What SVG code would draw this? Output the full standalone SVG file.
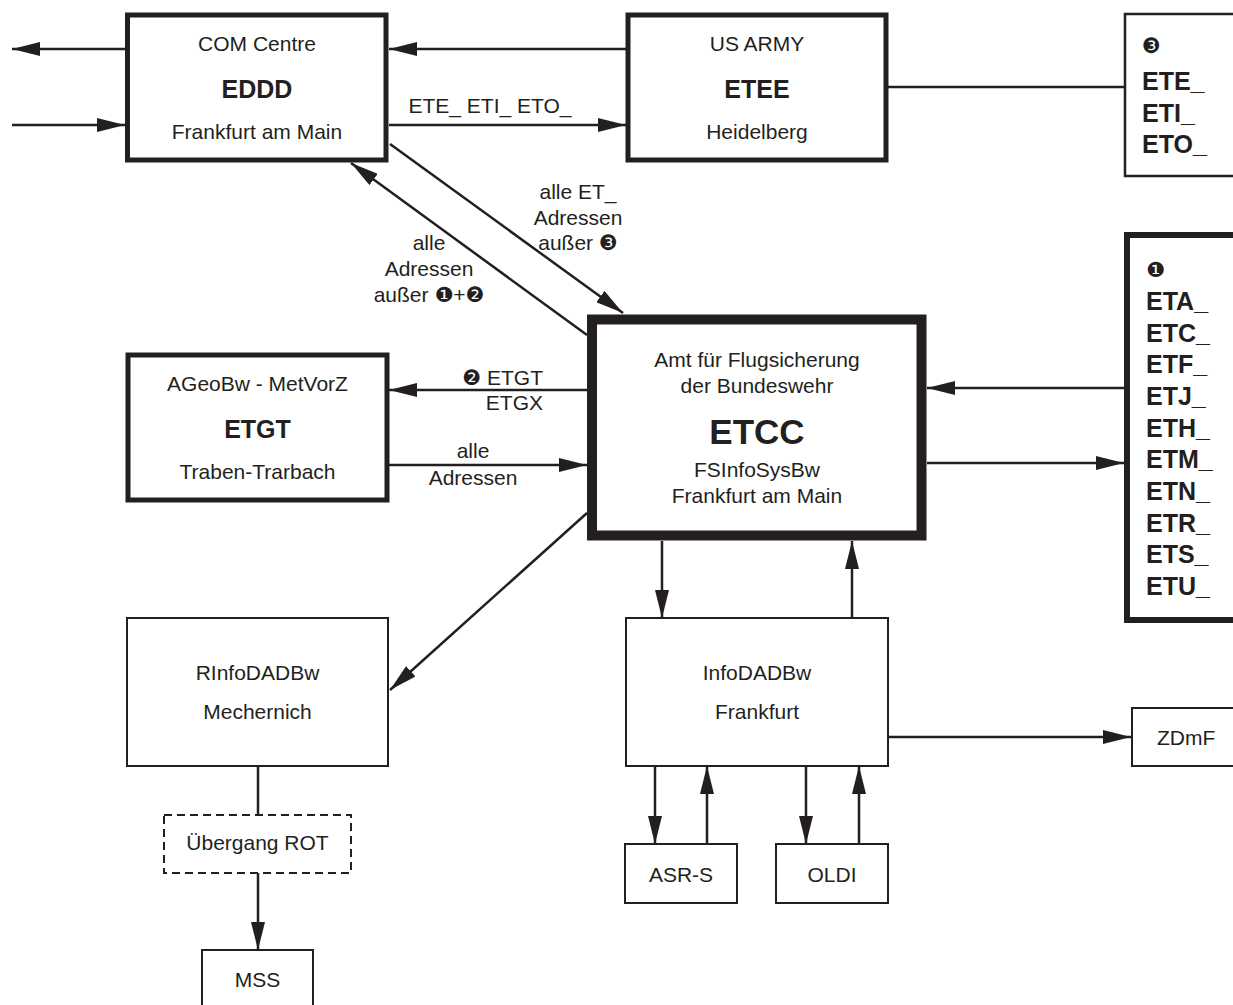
<svg xmlns="http://www.w3.org/2000/svg" width="1233" height="1005" viewBox="0 0 1233 1005">
<style>
text{font-family:"Liberation Sans","DejaVu Sans",Arial,sans-serif;font-size:21px;fill:#231f20}
.c{text-anchor:middle}
.b{font-weight:bold}
.big{font-size:25px;font-weight:bold}
.lst{font-size:25px;font-weight:bold}
.box{fill:#fff;stroke:#231f20}
.w5{stroke-width:5}
.w2{stroke-width:2}
.cn line,.cn path{stroke:#231f20;stroke-width:2.5;fill:none}
</style>
<defs>
<marker id="ah" markerUnits="userSpaceOnUse" markerWidth="28" markerHeight="14" refX="28" refY="7" orient="auto" viewBox="0 0 28 14">
<path d="M0,0 L28,7 L0,14 z" fill="#231f20"/>
</marker>
</defs>
<rect width="1233" height="1005" fill="#fff"/>

<g class="cn" id="connectors">
<line x1="125" y1="49" x2="12" y2="49" marker-end="url(#ah)"/>
<line x1="12" y1="125" x2="125" y2="125" marker-end="url(#ah)"/>
<line x1="626" y1="49" x2="389" y2="49" marker-end="url(#ah)"/>
<line x1="389" y1="125" x2="626" y2="125" marker-end="url(#ah)"/>
<line x1="886" y1="87" x2="1125" y2="87"/>
<line x1="390" y1="144" x2="623" y2="313" marker-end="url(#ah)"/>
<line x1="587" y1="335" x2="351" y2="163" marker-end="url(#ah)"/>
<line x1="587" y1="390" x2="389" y2="390" marker-end="url(#ah)"/>
<line x1="389" y1="465" x2="587" y2="465" marker-end="url(#ah)"/>
<line x1="1127" y1="388" x2="927" y2="388" marker-end="url(#ah)"/>
<line x1="927" y1="463" x2="1124" y2="463" marker-end="url(#ah)"/>
<line x1="587" y1="513" x2="390" y2="690" marker-end="url(#ah)"/>
<line x1="662" y1="541" x2="662" y2="618" marker-end="url(#ah)"/>
<line x1="852" y1="618" x2="852" y2="541" marker-end="url(#ah)"/>
<line x1="888" y1="737" x2="1131" y2="737" marker-end="url(#ah)"/>
<line x1="655" y1="766" x2="655" y2="844" marker-end="url(#ah)"/>
<line x1="707" y1="844" x2="707" y2="766" marker-end="url(#ah)"/>
<line x1="806" y1="766" x2="806" y2="844" marker-end="url(#ah)"/>
<line x1="859" y1="844" x2="859" y2="766" marker-end="url(#ah)"/>
<line x1="258" y1="766" x2="258" y2="814"/>
<line x1="258" y1="873" x2="258" y2="950" marker-end="url(#ah)"/>
</g>

<g id="labels">
<text class="c" x="490" y="113">ETE_ ETI_ ETO_</text>
<text class="c" x="578" y="199">alle ET_</text>
<text class="c" x="578" y="225">Adressen</text>
<text class="c" x="578" y="250">außer ❸</text>
<text class="c" x="429" y="250">alle</text>
<text class="c" x="429" y="276">Adressen</text>
<text class="c" x="429" y="302">außer ❶+❷</text>
<text x="543" y="385" text-anchor="end">❷ ETGT</text>
<text x="543" y="410" text-anchor="end">ETGX</text>
<text class="c" x="473" y="458">alle</text>
<text class="c" x="473" y="485">Adressen</text>
</g>

<g id="eddd">
<rect class="box w5" x="127.5" y="15" width="258.5" height="145"/>
<text class="c" x="257" y="51">COM Centre</text>
<text class="c big" x="257" y="98">EDDD</text>
<text class="c" x="257" y="139">Frankfurt am Main</text>
</g>

<g id="etee">
<rect class="box w5" x="628" y="15" width="258" height="145"/>
<text class="c" x="757" y="51">US ARMY</text>
<text class="c big" x="757" y="98">ETEE</text>
<text class="c" x="757" y="139">Heidelberg</text>
</g>

<g id="ete-list">
<rect class="box" stroke-width="2.5" x="1125" y="14" width="120" height="162"/>
<text x="1142" y="53">❸</text>
<text class="lst" x="1142" y="90">ETE_</text>
<text class="lst" x="1142" y="122">ETI_</text>
<text class="lst" x="1142" y="153">ETO_</text>
</g>

<g id="etgt">
<rect class="box w5" x="128" y="355" width="259" height="145"/>
<text class="c" x="257.5" y="391">AGeoBw - MetVorZ</text>
<text class="c big" x="257.5" y="438">ETGT</text>
<text class="c" x="257.5" y="479">Traben-Trarbach</text>
</g>

<g id="etcc">
<rect class="box" stroke-width="10" x="592" y="319.5" width="329.5" height="216"/>
<text class="c" x="757" y="367">Amt für Flugsicherung</text>
<text class="c" x="757" y="393">der Bundeswehr</text>
<text class="c b" x="757" y="444" style="font-size:35px">ETCC</text>
<text class="c" x="757" y="477">FSInfoSysBw</text>
<text class="c" x="757" y="503">Frankfurt am Main</text>
</g>

<g id="eta-list">
<rect class="box" stroke-width="6" x="1127" y="235" width="120" height="385"/>
<text x="1146" y="277">❶</text>
<text class="lst" x="1146" y="310">ETA_</text>
<text class="lst" x="1146" y="342">ETC_</text>
<text class="lst" x="1146" y="373">ETF_</text>
<text class="lst" x="1146" y="405">ETJ_</text>
<text class="lst" x="1146" y="437">ETH_</text>
<text class="lst" x="1146" y="468">ETM_</text>
<text class="lst" x="1146" y="500">ETN_</text>
<text class="lst" x="1146" y="532">ETR_</text>
<text class="lst" x="1146" y="563">ETS_</text>
<text class="lst" x="1146" y="595">ETU_</text>
</g>

<g id="rinfodadbw">
<rect class="box w2" x="127" y="618" width="261" height="148"/>
<text class="c" x="257.5" y="680">RInfoDADBw</text>
<text class="c" x="257.5" y="719">Mechernich</text>
</g>

<g id="uebergang">
<rect class="box" stroke-width="2" stroke-dasharray="8,5" x="164" y="815" width="187" height="58"/>
<text class="c" x="257.5" y="850">Übergang ROT</text>
</g>

<g id="mss">
<rect class="box w2" x="202" y="950" width="111" height="60"/>
<text class="c" x="257.5" y="987">MSS</text>
</g>

<g id="infodadbw">
<rect class="box w2" x="626" y="618" width="262" height="148"/>
<text class="c" x="757" y="680">InfoDADBw</text>
<text class="c" x="757" y="719">Frankfurt</text>
</g>

<g id="zdmf">
<rect class="box w2" x="1132" y="708" width="120" height="58"/>
<text x="1157" y="745">ZDmF</text>
</g>

<g id="asr-s">
<rect class="box w2" x="625" y="844" width="112" height="59"/>
<text class="c" x="681" y="882">ASR-S</text>
</g>

<g id="oldi">
<rect class="box w2" x="776" y="844" width="112" height="59"/>
<text class="c" x="832" y="882">OLDI</text>
</g>
</svg>
